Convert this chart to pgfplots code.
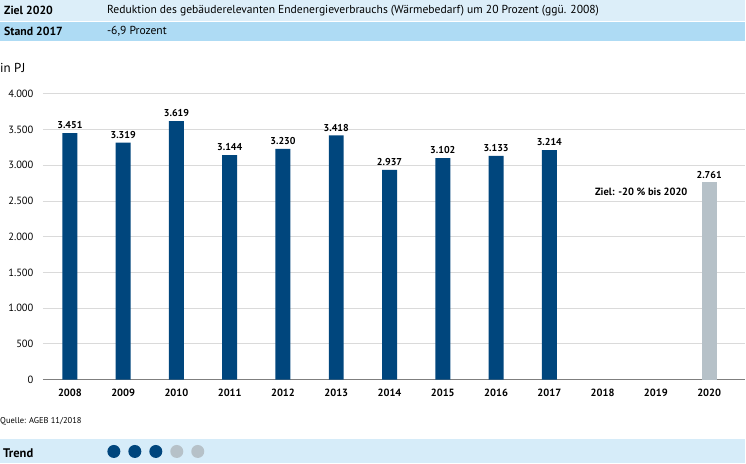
\documentclass[border=0pt]{standalone}
\usepackage{pgfplots}
\pgfplotsset{compat=1.18}
\usepackage{fontspec}
\setmainfont{PT Sans}
\definecolor{barblue}{HTML}{00467D}
\definecolor{bargray}{HTML}{B6C1C8}
\definecolor{rowone}{HTML}{DCEEF9}
\definecolor{rowtwo}{HTML}{AEDBF4}
\definecolor{trendbg}{HTML}{D6ECF9}
\definecolor{gridc}{HTML}{DADADA}
\definecolor{axisc}{HTML}{7F7F7F}
\begin{document}
\begin{tikzpicture}[x=1pt,y=1pt]
\fill[white] (0,0) rectangle (746,464);
% header
\fill[rowone] (0,464) rectangle (746,443);
\fill[rowtwo] (0,442) rectangle (746,423);
\node[anchor=west,font=\bfseries\fontsize{11.8}{13}\selectfont,inner sep=0] at (4,453.5) {Ziel 2020};
\node[anchor=west,font=\fontsize{11.6}{13}\selectfont,inner sep=0] at (107,453.5) {Reduktion des gebäuderelevanten Endenergieverbrauchs (Wärmebedarf) um 20 Prozent (ggü. 2008)};
\node[anchor=west,font=\bfseries\fontsize{11.8}{13}\selectfont,inner sep=0] at (4,432.5) {Stand 2017};
\node[anchor=west,font=\fontsize{11.6}{13}\selectfont,inner sep=0] at (107,432.5) {-6,9 Prozent};
\node[anchor=west,font=\fontsize{13}{14}\selectfont,inner sep=0] at (0,396) {in PJ};
% footer
\node[anchor=west,font=\fontsize{8.5}{9}\selectfont,inner sep=0] at (0,42) {Quelle: AGEB 11/2018};
\fill[trendbg] (0,24) rectangle (746,0);
\node[anchor=west,font=\bfseries\fontsize{12.5}{13}\selectfont,inner sep=0] at (3,10) {Trend};
\fill[barblue] (114,12) circle (6.5);
\fill[barblue] (135,12) circle (6.5);
\fill[barblue] (156,12) circle (6.5);
\fill[bargray] (177,12) circle (6.5);
\fill[bargray] (198,12) circle (6.5);
\begin{axis}[
  at={(43pt,84pt)}, anchor=south west,
  scale only axis, width=703pt, height=286pt,
  xmin=-0.506, xmax=12.675, ymin=0, ymax=4000,
  axis x line=bottom, axis y line=left,
  y axis line style={draw=none},
  x axis line style={draw=axisc, line width=1.8pt, -},
  major tick length=0pt,
  ytick={0,500,...,4000},
  xtick={0,...,12},
  xticklabels={2008,2009,2010,2011,2012,2013,2014,2015,2016,2017,2018,2019,2020},
  ymajorgrids, grid style={gridc, line width=0.8pt},
  /pgf/number format/.cd, 1000 sep={.}, assume math mode=true,
  /pgfplots/.cd,
  yticklabel style={font=\fontsize{10.5}{11}\selectfont, xshift=-6pt},
  xticklabel style={font=\bfseries\fontsize{10.5}{11}\selectfont, yshift=-6pt},
  ybar, bar width=15pt,
  clip=false,
  nodes near coords,
  nodes near coords style={font=\bfseries\fontsize{10}{11}\selectfont, text=black, inner sep=1pt, yshift=3pt},
]
\addplot[fill=barblue, draw=none, bar shift=0pt] coordinates {
 (0,3451) (1,3319) (2,3619) (3,3144) (4,3230) (5,3418) (6,2937) (7,3102) (8,3133) (9,3214)};
\addplot[fill=bargray, draw=none, bar shift=0pt] coordinates {(12,2761)};
\end{axis}
\node[font=\bfseries\fontsize{10.5}{11}\selectfont] at (642,272) {Ziel: -20 \% bis 2020};
\end{tikzpicture}
\end{document}
